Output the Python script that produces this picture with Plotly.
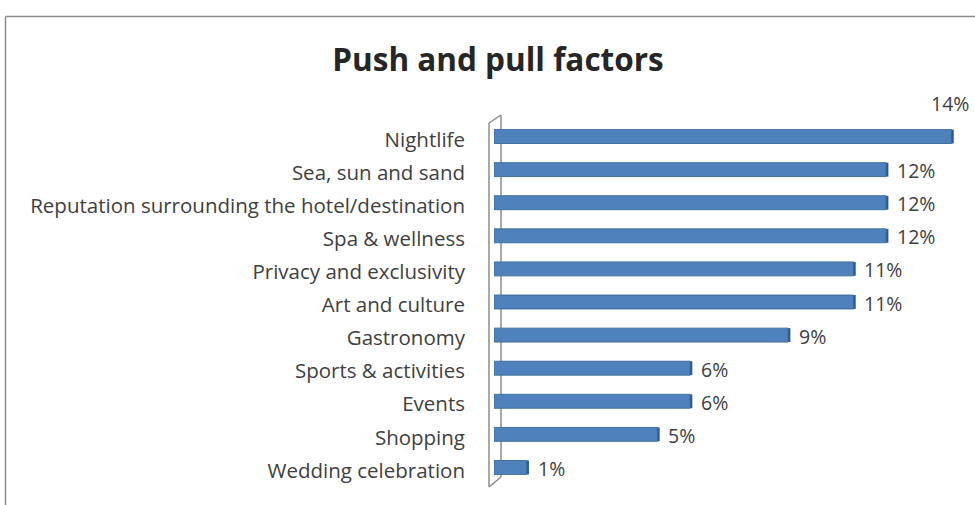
import plotly.graph_objects as go

categories = ["Nightlife", "Sea, sun and sand", "Reputation surrounding the hotel/destination",
              "Spa & wellness", "Privacy and exclusivity", "Art and culture", "Gastronomy",
              "Sports & activities", "Events", "Shopping", "Wedding celebration"]
values = [14, 12, 12, 12, 11, 11, 9, 6, 6, 5, 1]
labels = [f"{v}%" for v in values]

W, H = 975, 505
L, R, T, B = 494, 17, 120, 21
pw, ph = W - L - R, H - T - B

def px(x):
    return (x - L) / pw

def py(y):
    return (H - B - y) / ph

fig = go.Figure()
fig.add_trace(go.Bar(
    x=values, y=categories, orientation="h", width=0.42,
    marker=dict(color="#4F81BD", line=dict(color="#41719C", width=1)),
    hoverinfo="x+y",
))
# darker end face for the 3-D look
fig.add_trace(go.Bar(
    x=[0.07] * len(values), base=values, y=categories, orientation="h", width=0.42,
    marker=dict(color="#2F5A8C", line=dict(width=0)),
    hoverinfo="skip",
))

vmax = max(values)
annotations = []
for c, v, t in zip(categories, values, labels):
    if v == vmax:
        annotations.append(dict(x=v, y=c, text=t, showarrow=False, xanchor="right",
                                yanchor="bottom", yshift=18, xshift=20,
                                font=dict(size=19.5, color="#404040", family="Open Sans")))
    else:
        annotations.append(dict(x=v, y=c, text=t, showarrow=False, xanchor="left",
                                xshift=9, yshift=-1,
                                font=dict(size=19.5, color="#404040", family="Open Sans")))

shapes = []
wall = dict(type="line", xref="paper", yref="paper", line=dict(color="#8c8c8c", width=1.5), layer="below")
shapes.append({**wall, "x0": px(489), "y0": py(123), "x1": px(489), "y1": py(487)})
shapes.append({**wall, "x0": px(489), "y0": py(123), "x1": px(501), "y1": py(115)})
shapes.append({**wall, "x0": px(501), "y0": py(115), "x1": px(501), "y1": py(477)})
shapes.append({**wall, "x0": px(489), "y0": py(487), "x1": px(501), "y1": py(477)})
frame = dict(type="line", xref="paper", yref="paper", line=dict(color="#8c8c8c", width=1.5))
shapes.append({**frame, "x0": px(5.5), "y0": py(510), "x1": px(5.5), "y1": py(16.5)})
shapes.append({**frame, "x0": px(5.5), "y0": py(16.5), "x1": px(980), "y1": py(16.5)})

fig.update_layout(
    width=W, height=H,
    margin=dict(l=L, r=R, t=T, b=B),
    paper_bgcolor="white", plot_bgcolor="white",
    title=dict(text="<b>Push and pull factors</b>", xref="container", x=498 / W, xanchor="center",
               yref="container", y=1 - 60 / H, yanchor="middle",
               font=dict(size=31.5, color="#262626", family="Open Sans")),
    xaxis=dict(range=[0, 14.2], visible=False, showgrid=False, zeroline=False),
    yaxis=dict(autorange="reversed", showgrid=False, zeroline=False, showline=False,
               ticks="", ticklabelstandoff=28, ticklabelshift=-3,
               tickfont=dict(size=20.5, color="#404040", family="Open Sans")),
    annotations=annotations,
    shapes=shapes,
    showlegend=False,
    barmode="overlay",
)

fig.write_html("out.html")
